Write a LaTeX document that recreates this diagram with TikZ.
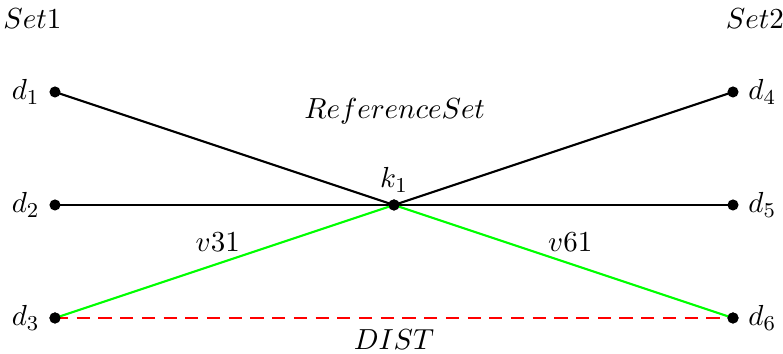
\documentclass[tikz,border=0pt]{standalone}
\begin{document}
\begin{tikzpicture}[
  font=\fontsize{11}{13}\selectfont,
  pt/.style={circle,fill=black,inner sep=0pt,minimum size=4.2pt},
  blk/.style={black,line width=0.8pt},
  grn/.style={green,line width=0.8pt},
  dst/.style={red,dash pattern=on 5pt off 3.2pt,line width=0.8pt}]
\useasboundingbox (-0.730,-0.465) rectangle (9.664,4.221);
\node[pt,label=left:$d_1$] (d1) at (0,3) {};
\node[pt,label=left:$d_2$] (d2) at (0,1.5) {};
\node[pt,label=left:$d_3$] (d3) at (0,0) {};
\node[pt,label=right:$d_4$] (d4) at (9,3) {};
\node[pt,label=right:$d_5$] (d5) at (9,1.5) {};
\node[pt,label=right:$d_6$] (d6) at (9,0) {};
\node[pt,label={[yshift=-1pt]above:$k_1$}] (k1) at (4.5,1.5) {};
\node (s1) at (-0.30,3.97) {$Set1$};
\node (s2) at (9.29,3.97) {$Set2$};
\node (rs) at (4.51,2.75) {$ReferenceSet$};
\draw[blk] (d1.center) -- (k1.center);
\draw[blk] (d2.center) -- (d5.center);
\draw[blk] (k1.center) -- (d4.center);
\draw[grn] (d3.center) -- (k1.center);
\draw[grn] (k1.center) -- (d6.center);
\draw[dst] (d3.center) -- (d6.center);
\node (v31) at (2.16,1.0) {$v31$};
\node (v61) at (6.84,1.0) {$v61$};
\node (dist) at (4.5,-0.29) {$DIST$};
\node[pt] at (d3) {};
\node[pt] at (d6) {};
\node[pt] at (k1) {};
\end{tikzpicture}
\end{document}
